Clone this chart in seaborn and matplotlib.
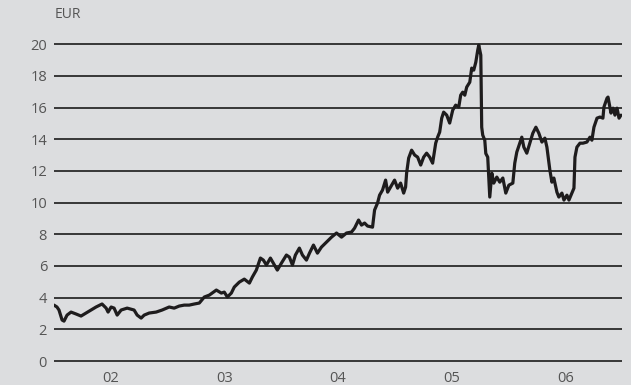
import pandas as pd
import numpy as np
import matplotlib
matplotlib.use("Agg")
import matplotlib.pyplot as plt
import seaborn as sns

# Share price in EUR (x = fractional year)
years = [
    2002.000, 2002.026, 2002.044, 2002.071, 2002.088, 2002.115, 2002.150, 2002.194,
    2002.238, 2002.282, 2002.326, 2002.370, 2002.423, 2002.459, 2002.476, 2002.503,
    2002.529, 2002.556, 2002.591, 2002.644, 2002.705, 2002.732, 2002.767, 2002.794,
    2002.838, 2002.899, 2002.952, 2003.014, 2003.058, 2003.102, 2003.146, 2003.190,
    2003.235, 2003.279, 2003.323, 2003.367, 2003.429, 2003.473, 2003.499, 2003.526,
    2003.561, 2003.587, 2003.631, 2003.675, 2003.720, 2003.746, 2003.781, 2003.817,
    2003.843, 2003.870, 2003.905, 2003.940, 2003.966, 2004.002, 2004.046, 2004.072,
    2004.099, 2004.125, 2004.160, 2004.187, 2004.222, 2004.249, 2004.284, 2004.319,
    2004.354, 2004.399, 2004.443, 2004.487, 2004.531, 2004.575, 2004.619, 2004.646,
    2004.681, 2004.707, 2004.734, 2004.760, 2004.804, 2004.822, 2004.848, 2004.866,
    2004.892, 2004.919, 2004.937, 2004.972, 2004.998, 2005.025, 2005.051, 2005.078,
    2005.095, 2005.104, 2005.122, 2005.148, 2005.175, 2005.201, 2005.228, 2005.254,
    2005.280, 2005.307, 2005.333, 2005.360, 2005.377, 2005.395, 2005.413, 2005.430,
    2005.457, 2005.483, 2005.510, 2005.536, 2005.563, 2005.580, 2005.598, 2005.616,
    2005.633, 2005.660, 2005.677, 2005.695, 2005.713, 2005.730, 2005.739, 2005.757,
    2005.765, 2005.774, 2005.792, 2005.801, 2005.818, 2005.836, 2005.854, 2005.871,
    2005.898, 2005.924, 2005.951, 2005.977, 2006.004, 2006.039, 2006.056, 2006.074,
    2006.118, 2006.136, 2006.162, 2006.189, 2006.215, 2006.242, 2006.268, 2006.295,
    2006.321, 2006.339, 2006.365, 2006.383, 2006.400, 2006.427, 2006.444, 2006.471,
    2006.489, 2006.515, 2006.533, 2006.559, 2006.577, 2006.586, 2006.603, 2006.630,
    2006.656, 2006.691, 2006.718, 2006.735, 2006.753, 2006.780, 2006.806, 2006.832,
    2006.841, 2006.868, 2006.877, 2006.903, 2006.921, 2006.938, 2006.956, 2006.974,
    2006.991,
]
price = [
    3.53, 3.41, 3.22, 2.59, 2.52, 2.90, 3.09, 2.97,
    2.84, 3.03, 3.22, 3.41, 3.60, 3.34, 3.09, 3.41,
    3.34, 2.90, 3.22, 3.34, 3.22, 2.90, 2.71, 2.90,
    3.03, 3.09, 3.22, 3.41, 3.34, 3.47, 3.53, 3.53,
    3.60, 3.66, 4.04, 4.16, 4.48, 4.29, 4.35, 4.04,
    4.29, 4.67, 4.98, 5.17, 4.92, 5.30, 5.74, 6.50,
    6.37, 6.06, 6.50, 6.06, 5.74, 6.18, 6.69, 6.56,
    6.06, 6.69, 7.13, 6.69, 6.37, 6.81, 7.32, 6.81,
    7.19, 7.51, 7.82, 8.08, 7.82, 8.08, 8.14, 8.39,
    8.90, 8.58, 8.71, 8.52, 8.45, 9.53, 9.97, 10.47,
    10.79, 11.42, 10.66, 11.10, 11.42, 10.91, 11.23, 10.60,
    10.98, 11.86, 12.81, 13.31, 13.00, 12.87, 12.37, 12.87,
    13.12, 12.87, 12.49, 13.75, 14.13, 14.45, 15.33, 15.71,
    15.52, 15.02, 15.84, 16.15, 16.03, 16.78, 16.97, 16.78,
    17.29, 17.60, 18.49, 18.36, 18.86, 19.62, 19.94, 19.31,
    14.76, 14.26, 13.94, 13.10, 12.87, 10.35, 11.86, 11.23,
    11.61, 11.29, 11.55, 10.60, 11.10, 11.23, 12.49, 13.19,
    14.13, 13.50, 13.12, 13.75, 14.38, 14.76, 14.38, 13.82,
    14.07, 13.50, 12.05, 11.29, 11.55, 10.66, 10.35, 10.60,
    10.16, 10.47, 10.16, 10.60, 10.91, 12.87, 13.50, 13.75,
    13.75, 13.82, 14.13, 13.94, 14.76, 15.33, 15.40, 15.33,
    16.03, 16.59, 16.66, 15.65, 15.96, 15.52, 15.96, 15.33,
    15.52,
]
year_labels = ["02", "03", "04", "05", "06"]
y_ticks = [0, 2, 4, 6, 8, 10, 12, 14, 16, 18, 20]

df = pd.DataFrame({"year": years, "price": price})

sns.set_style("white")
plt.rcParams["font.family"] = ["Open Sans", "DejaVu Sans"]

bg = "#dcdddf"
txt = "#555555"

fig = plt.figure(figsize=(6.31, 3.85), dpi=100, facecolor=bg)
ax = fig.add_axes([54 / 631, 0.054, (622 - 54) / 631, 0.856])
ax.set_facecolor(bg)

sns.lineplot(data=df, x="year", y="price", ax=ax, color="#1e1c1d", lw=2.3,
             zorder=3)

ax.set_xlim(2002.0, 2007.0)
ax.set_ylim(-0.2, 20.6)
ax.set_yticks(y_ticks)
ax.set_yticklabels([str(v) for v in y_ticks], fontsize=10.5, color=txt)
ax.set_xticks([2002.5 + i for i in range(len(year_labels))])
ax.set_xticklabels(year_labels, fontsize=10.5, color=txt)
ax.tick_params(axis="both", length=0)
ax.tick_params(axis="y", pad=5)
ax.tick_params(axis="x", pad=5)
ax.grid(axis="y", color="#2a2a2a", lw=1.3, zorder=1)
ax.grid(axis="x", visible=False)
for s in ax.spines.values():
    s.set_visible(False)
ax.set_xlabel("")
ax.set_ylabel("")

fig.text(55 / 631, 1 - 15 / 385, "EUR", fontsize=10, color=txt,
         ha="left", va="center")

fig.savefig("out.png", dpi=100, facecolor=bg)
